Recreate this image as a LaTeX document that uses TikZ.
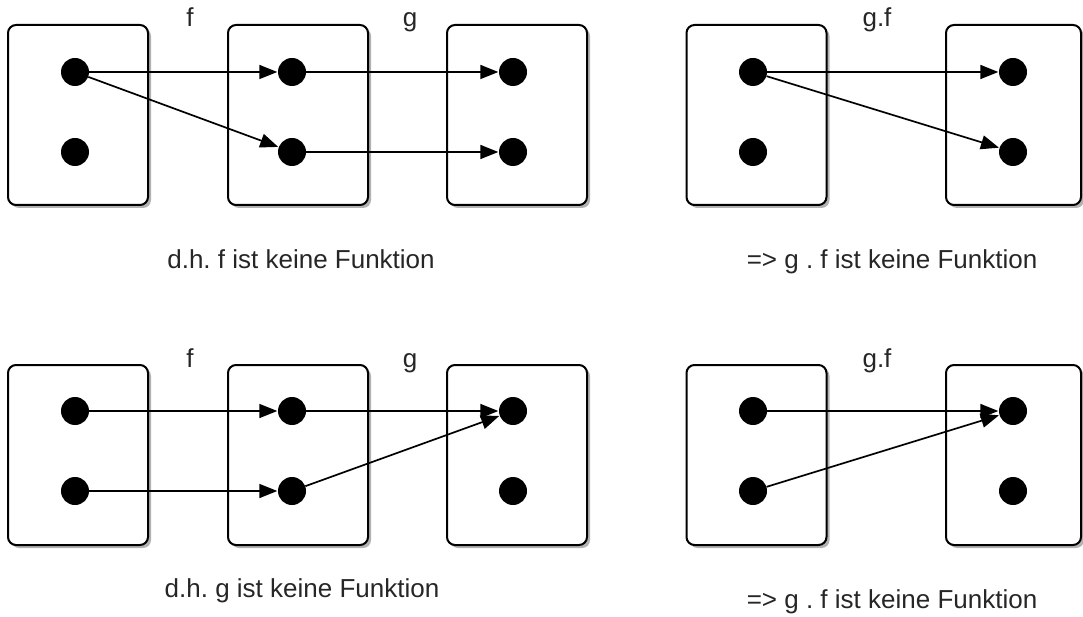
\documentclass[tikz,border=0pt]{standalone}
\usepackage{fontspec}
\setmainfont{Liberation Sans}
\usetikzlibrary{arrows.meta,shadows}
\frenchspacing
\begin{document}
\begin{tikzpicture}[x=1pt,y=-1pt,
  setbox/.style={draw=black, line width=2pt, rounded corners=8pt, fill=white,
    minimum width=140pt, minimum height=180pt, inner sep=0pt,
    drop shadow={shadow xshift=3pt, shadow yshift=-3pt, fill=black, opacity=0.3}},
  dot/.style={circle, fill=black, minimum size=28pt, inner sep=0pt},
  arr/.style={line width=1.7pt, -{Triangle[length=18pt,width=14pt]}, shorten >=0.5pt},
  lab/.style={font=\fontsize{26}{30}\selectfont, text=black!85, inner sep=0pt, anchor=base}
]
\useasboundingbox (0,0) rectangle (1083,617);
% ---------- top row ----------
\node[setbox] (A) at (78,115) {};
\node[setbox] (B) at (298,115) {};
\node[setbox] (C) at (517,115) {};
\node[setbox] (D) at (756.5,115) {};
\node[setbox, minimum width=135pt] (E) at (1013.5,115) {};
\node[dot] (a1) at (75,72) {};
\node[dot] (a2) at (75,152) {};
\node[dot] (b1) at (292,72) {};
\node[dot] (b2) at (292,152) {};
\node[dot] (c1) at (513,72) {};
\node[dot] (c2) at (513,152) {};
\node[dot] (d1) at (753,72) {};
\node[dot] (d2) at (753,152) {};
\node[dot] (e1) at (1013,72) {};
\node[dot] (e2) at (1013,152) {};
\draw[arr] (a1) -- (b1);
\draw[arr] (a1) -- (b2);
\draw[arr] (b1) -- (c1);
\draw[arr] (b2) -- (c2);
\draw[arr] (d1) -- (e1);
\draw[arr] (d1) -- (e2);
\node[lab] (lf1) at (190,27) {f};
\node[lab] (lg1) at (410,27) {g};
\node[lab] (lgf1) at (877,27) {g.f};
\node[lab] (cap1) at (301,269) {d.h. f ist keine Funktion};
\node[lab] (cap2) at (892,269) {=> g . f ist keine Funktion};
% ---------- bottom row ----------
\node[setbox] (A') at (78,455) {};
\node[setbox] (B') at (298,455) {};
\node[setbox] (C') at (517,455) {};
\node[setbox] (D') at (756.5,455) {};
\node[setbox, minimum width=135pt] (E') at (1013.5,455) {};
\node[dot] (p1) at (75,411) {};
\node[dot] (p2) at (75,491) {};
\node[dot] (q1) at (292,411) {};
\node[dot] (q2) at (292,491) {};
\node[dot] (r1) at (513,411) {};
\node[dot] (r2) at (513,491) {};
\node[dot] (s1) at (753,411) {};
\node[dot] (s2) at (753,491) {};
\node[dot] (t1) at (1013,411) {};
\node[dot] (t2) at (1013,491) {};
\draw[arr] (p1) -- (q1);
\draw[arr] (p2) -- (q2);
\draw[arr] (q1) -- (r1);
\draw[arr] (q2) -- (r1);
\draw[arr] (s1) -- (t1);
\draw[arr] (s2) -- (t1);
\node[lab] (lf2) at (190,367) {f};
\node[lab] (lg2) at (410,367) {g};
\node[lab] (lgf2) at (877,367) {g.f};
\node[lab] (cap3) at (302,597) {d.h. g ist keine Funktion};
\node[lab] (cap4) at (892,608) {=> g . f ist keine Funktion};
\end{tikzpicture}
\end{document}
